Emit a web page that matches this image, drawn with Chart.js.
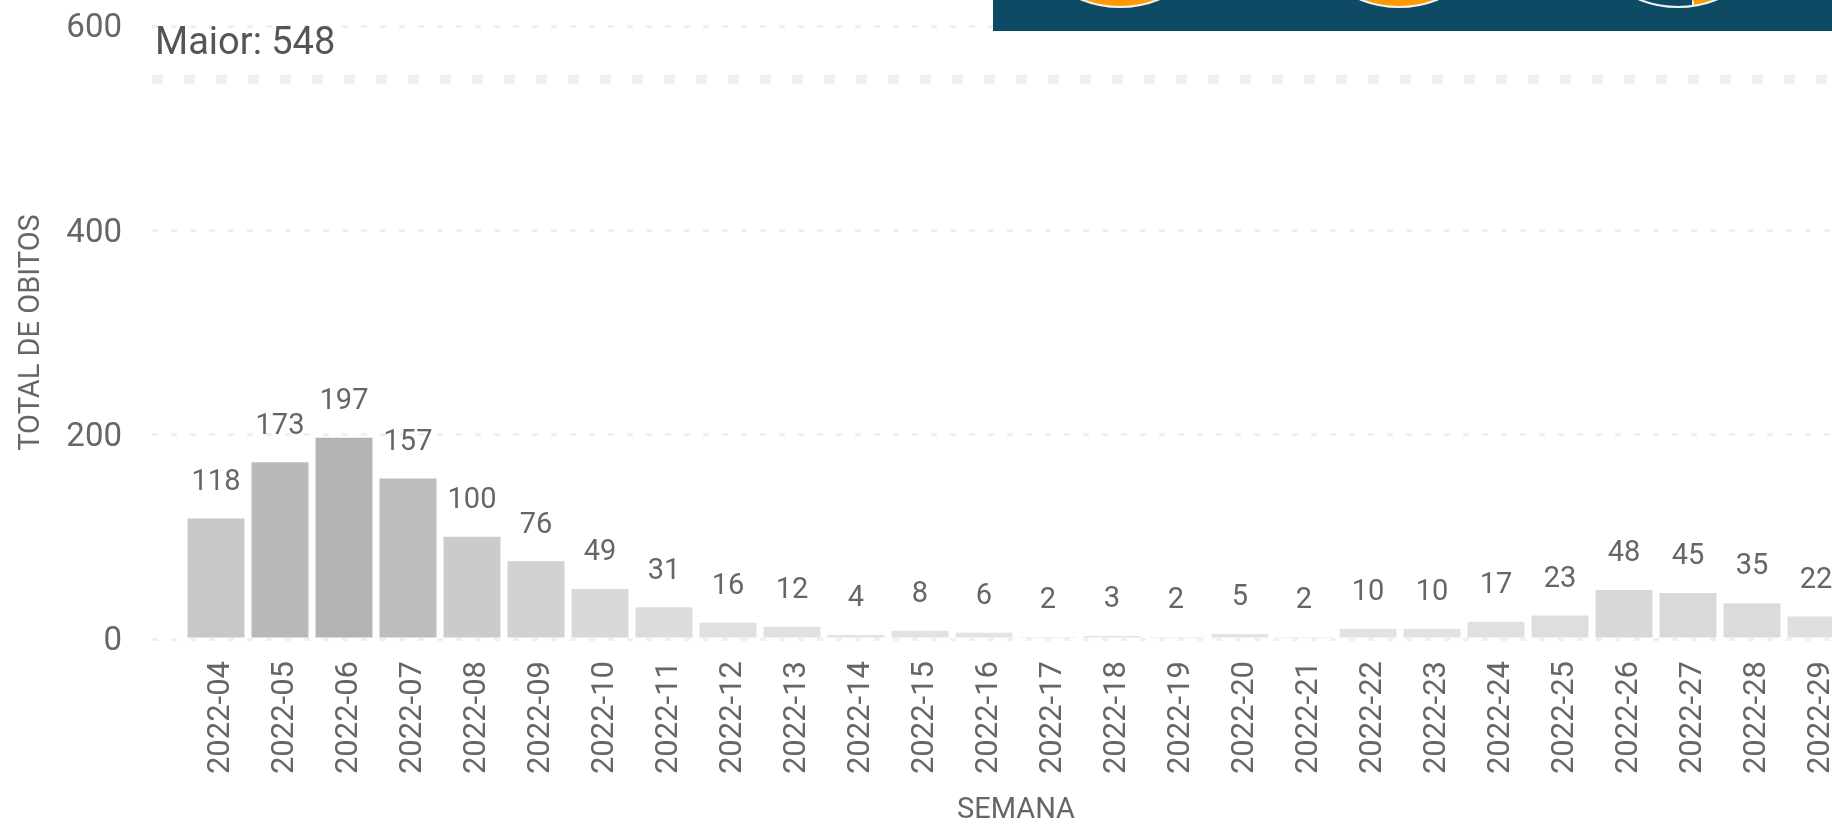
<!DOCTYPE html>
<html>
<head>
<meta charset="utf-8">
<script src="https://cdn.jsdelivr.net/npm/chart.js@4"></script>
<style>
    html, body { margin: 0; background: #fff; overflow: hidden; }
    #wrap { position: relative; width: 1832px; height: 825px; overflow: hidden; }
    #myChart { position: absolute; left: 0; top: 0; filter: blur(0.6px); }
    #panel { position: absolute; left: 993px; top: 0; width: 839px; height: 31px; background: #0f4a64; overflow: hidden; }
    .ring { position: absolute; top: -202px; width: 210px; height: 210px; box-sizing: border-box; border-radius: 50%; border: 2px solid #eef3f5; background: #ff9900; }
    .ring.open { background: conic-gradient(#0f4a64 0 120deg, #ff9900 120deg 171deg, #eef3f5 171deg 172deg, #0f4a64 172deg 360deg); }
</style>
</head>
<body>
<div id="wrap">
    <canvas id="myChart" width="1880" height="825"></canvas>
    <div id="panel">
        <div class="ring" style="left: 22px"></div>
        <div class="ring" style="left: 301px"></div>
        <div class="ring open" style="left: 580px"></div>
    </div>
</div>
<script>
var semanas = ['2022-04', '2022-05', '2022-06', '2022-07', '2022-08', '2022-09', '2022-10', '2022-11', '2022-12',
    '2022-13', '2022-14', '2022-15', '2022-16', '2022-17', '2022-18', '2022-19', '2022-20', '2022-21', '2022-22',
    '2022-23', '2022-24', '2022-25', '2022-26', '2022-27', '2022-28', '2022-29'];
var obitos = [118, 173, 197, 157, 100, 76, 49, 31, 16, 12, 4, 8, 6, 2, 3, 2, 5, 2, 10, 10, 17, 23, 48, 45, 35, 22];
var maior = 548;
var yTicks = [0, 200, 400, 600];

// empty slots at both ends so the bars start half a band in from the axis
var labels = [''].concat(semanas, ['']);
var barData = [null].concat(obitos, [null]);
var maiorData = labels.map(() => maior);

var font = 'Roboto, "Liberation Sans", sans-serif';
var textColor = '#666666';

// the axis labels must not push the plot area around
function noPadding(scale) {
    scale.paddingTop = scale.paddingBottom = scale.paddingLeft = scale.paddingRight = 0;
}

var barLabels = {
    id: 'barLabels',
    afterDatasetsDraw(chart) {
        var ctx = chart.ctx;
        var meta = chart.getDatasetMeta(1);
        ctx.save();
        ctx.font = '29px ' + font;
        ctx.fillStyle = textColor;
        ctx.textAlign = 'center';
        ctx.textBaseline = 'middle';
        meta.data.forEach((bar, i) => {
            if (barData[i] === null) return;
            ctx.fillText(barData[i], bar.x, bar.y - 36);
        });
        // reference line caption
        ctx.textAlign = 'left';
        ctx.font = '38px ' + font;
        ctx.fillStyle = '#555555';
        ctx.fillText('Maior: ' + maior, chart.chartArea.left + 3, chart.scales.y.getPixelForValue(maior) - 35);
        ctx.restore();
    }
};

new Chart(document.getElementById('myChart').getContext('2d'), {
    data: {
        labels: labels,
        datasets: [{
            type: 'line',
            label: 'Maior',
            data: maiorData,
            borderColor: '#f0f0f0',
            borderWidth: 9,
            borderDash: [11, 21],
            pointRadius: 0,
            order: 2
        }, {
            type: 'bar',
            label: 'Total de óbitos',
            data: barData,
            backgroundColor: (c) => {
                var g = Math.round(228 - 49 * (c.raw || 0) / 197);
                return 'rgb(' + g + ',' + g + ',' + g + ')';
            },
            barPercentage: 0.89,
            categoryPercentage: 1,
            order: 1
        }]
    },
    plugins: [barLabels],
    options: {
        responsive: false,
        animation: false,
        layout: { padding: { top: 26, left: 0, right: 0, bottom: 0 } },
        plugins: {
            legend: { display: false },
            tooltip: { enabled: false }
        },
        scales: {
            x: {
                offset: false,
                grid: { display: false },
                border: { display: false },
                afterFit: (scale) => { scale.height = 186; noPadding(scale); },
                ticks: {
                    autoSkip: false,
                    maxRotation: 90,
                    minRotation: 90,
                    color: textColor,
                    padding: 14,
                    labelOffset: 5,
                    font: { family: font, size: 31 }
                },
                title: {
                    display: true,
                    text: 'SEMANA',
                    color: textColor,
                    font: { family: font, size: 29, lineHeight: 1 },
                    padding: { top: 6, bottom: 0 }
                }
            },
            y: {
                min: 0,
                max: 600,
                afterFit: (scale) => { scale.width = 152; noPadding(scale); },
                afterBuildTicks: (scale) => { scale.ticks = yTicks.map(v => ({ value: v })); },
                grid: {
                    color: '#f0f0f0',
                    lineWidth: 3,
                    drawTicks: false
                },
                border: { display: false, dash: [6, 13] },
                ticks: {
                    color: textColor,
                    padding: 30,
                    labelOffset: 3,
                    font: { family: font, size: 33 }
                },
                title: {
                    display: true,
                    text: 'TOTAL DE OBITOS',
                    color: textColor,
                    font: { family: font, size: 29 },
                    padding: { top: 14, bottom: 0 }
                }
            }
        }
    }
});
</script>
</body>
</html>
